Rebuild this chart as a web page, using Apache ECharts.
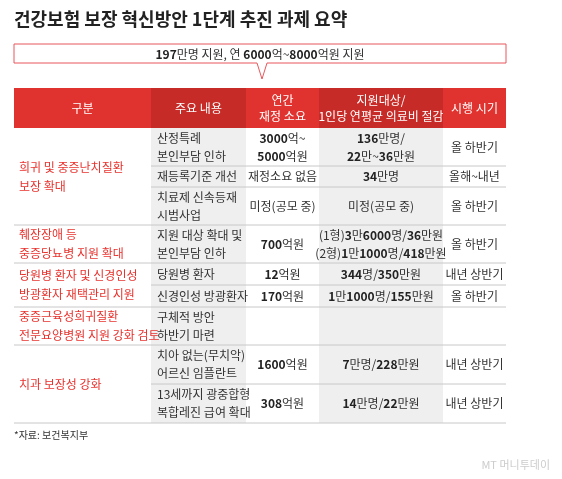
<!DOCTYPE html>
<html><head><meta charset="utf-8">
<script src="https://cdn.jsdelivr.net/npm/echarts@6/dist/echarts.min.js"></script>
<style>html,body{margin:0;padding:0;background:#fff}#c{width:562px;height:479px}</style>
</head><body><div id="c"></div>
<script>
const title = '건강보험 보장 혁신방안 1단계 추진 과제 요약';
const summary = '**197**만명 지원, 연 **6000**억~**8000**억원 지원';
const headers = ['구분', '주요 내용', '연간\n재정 소요', '지원대상/\n1인당 연평균 의료비 절감', '시행 시기'];
const categories = ['희귀 및 중증난치질환\n보장 확대', '췌장장애 등\n중증당뇨병 지원 확대', '당원병 환자 및 신경인성\n방광환자 재택관리 지원', '중증근육성희귀질환\n전문요양병원 지원 강화 검토', '치과 보장성 강화'];
const rowGroup = [0, 0, 0, 1, 2, 2, 3, 4, 4];
const items = ['산정특례\n본인부담 인하', '재등록기준 개선', '치료제 신속등재\n시범사업', '지원 대상 확대 및\n본인부담 인하', '당원병 환자', '신경인성 방광환자', '구체적 방안\n하반기 마련', '치아 없는(무치악)\n어르신 임플란트', '13세까지 광중합형\n복합레진 급여 확대'];
const budget = ['**3000**억~\n**5000**억원', '재정소요 없음', '미정(공모 중)', '**700**억원', '**12**억원', '**170**억원', '', '**1600**억원', '**308**억원'];
const target = ['**136**만명/\n**22**만~**36**만원', '**34**만명', '미정(공모 중)', '(1형)**3**만**6000**명/**36**만원\n(2형)**1**만**1000**명/**418**만원', '**344**명/**350**만원', '**1**만**1000**명/**155**만원', '', '**7**만명/**228**만원', '**14**만명/**22**만원'];
const timing = ['올 하반기', '올해~내년', '올 하반기', '올 하반기', '내년 상반기', '올 하반기', '', '내년 상반기', '내년 상반기'];
const source = '*자료: 보건복지부';

// layout
const colX = [14, 151, 246, 319, 443, 506];
const rowY = [128, 166, 187, 225, 263, 285, 307, 345, 384, 423];
const FONT = '"Noto Sans CJK KR", sans-serif';

function rich(s) {
  return s.split('\n').map(line => line.split('**').map((p, i) => p ? '{' + (i % 2 ? 'b' : 'n') + '|' + p + '}' : '').join('')).join('\n');
}
const richStyle = {
  n: {fontSize: 12, fontFamily: FONT, fill: '#333', lineHeight: 18, letterSpacing: -0.6},
  b: {fontSize: 12, fontFamily: FONT, fill: '#222', fontWeight: 'bold', lineHeight: 18, letterSpacing: -0.8}
};

const g = [];
g.push({type: 'text', left: 14, top: 10, style: {text: title, fontSize: 18, fontWeight: 'bold', fontFamily: FONT, fill: '#222', letterSpacing: -0.5}});
g.push({type: 'polygon', shape: {points: [[14,44],[506,44],[506,63],[267,63],[262,79],[257,63],[14,63]]}, style: {fill: '#fff', stroke: '#e9565a', lineWidth: 1}});
g.push({type: 'text', x: 260, y: 54, style: {text: rich(summary), rich: richStyle, align: 'center', verticalAlign: 'middle'}});
g.push({type: 'rect', shape: {x: colX[1], y: 128, width: colX[2]-colX[1], height: 295}, style: {fill: '#efefef'}});
g.push({type: 'rect', shape: {x: colX[3], y: 128, width: colX[4]-colX[3], height: 295}, style: {fill: '#efefef'}});
const hdrFill = ['#e0332f', '#c72b27', '#e0332f', '#c72b27', '#e0332f'];
for (let i = 0; i < 5; i++) {
  g.push({type: 'rect', shape: {x: colX[i], y: 88, width: colX[i+1]-colX[i], height: 40}, style: {fill: hdrFill[i]}});
  g.push({type: 'text', x: (colX[i]+colX[i+1])/2, y: 108, style: {text: headers[i], fill: '#fff', fontSize: 12, fontFamily: FONT, align: 'center', verticalAlign: 'middle', lineHeight: 16, letterSpacing: -0.5}});
}
for (let r = 0; r < items.length; r++) {
  const y0 = rowY[r], y1 = rowY[r+1], cy = (y0+y1)/2;
  const newGroup = r === 0 || rowGroup[r] !== rowGroup[r-1];
  if (r > 0) g.push({type: 'line', shape: {x1: newGroup ? colX[0] : colX[1], y1: y0, x2: colX[5], y2: y0}, style: {stroke: '#c8c8c8', lineWidth: 1}});
  g.push({type: 'text', x: colX[1]+6, y: cy, style: {text: items[r], fill: '#333', fontSize: 12, fontFamily: FONT, verticalAlign: 'middle', lineHeight: 18, letterSpacing: -0.6}});
  if (budget[r]) g.push({type: 'text', x: (colX[2]+colX[3])/2, y: cy, style: {text: rich(budget[r]), rich: richStyle, align: 'center', verticalAlign: 'middle'}});
  if (target[r]) g.push({type: 'text', x: (colX[3]+colX[4])/2, y: cy, style: {text: rich(target[r]), rich: richStyle, align: 'center', verticalAlign: 'middle'}});
  if (timing[r]) g.push({type: 'text', x: (colX[4]+colX[5])/2, y: cy, style: {text: timing[r], fill: '#333', fontSize: 12, fontFamily: FONT, align: 'center', verticalAlign: 'middle', letterSpacing: -0.6}});
}
categories.forEach((c, gi) => {
  const rs = rowGroup.map((v, i) => v === gi ? i : -1).filter(i => i >= 0);
  const cy = (rowY[rs[0]] + rowY[rs[rs.length-1]+1]) / 2;
  g.push({type: 'text', x: colX[0]+5, y: cy, style: {text: c, fill: '#e8322d', fontSize: 12, fontFamily: FONT, verticalAlign: 'middle', lineHeight: 19, letterSpacing: -0.9}});
});
g.push({type: 'line', shape: {x1: colX[0], y1: 423, x2: colX[5], y2: 423}, style: {stroke: '#c8c8c8', lineWidth: 1}});
g.push({type: 'text', x: 14, y: 430, style: {text: source, fill: '#333', fontSize: 10, fontFamily: FONT}});
g.push({type: 'text', x: 550, y: 465, style: {text: 'MT 머니투데이', fill: '#ccc', fontSize: 11, fontFamily: FONT, align: 'right', verticalAlign: 'middle'}});

const chart = echarts.init(document.getElementById('c'));
chart.setOption({animation: false, graphic: {elements: g}});
</script></body></html>
